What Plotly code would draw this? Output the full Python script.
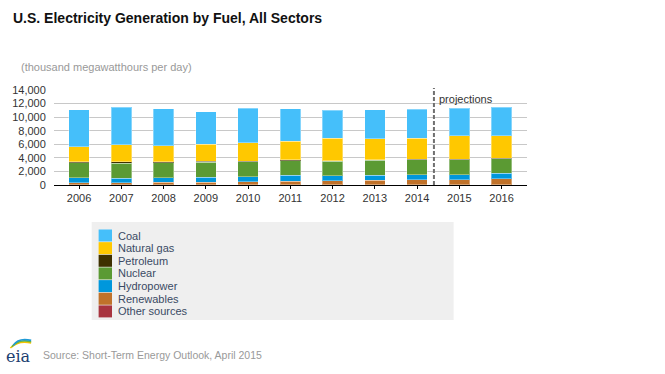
import plotly.graph_objects as go

# ---- data (thousand megawatthours per day) ----
years = [2006, 2007, 2008, 2009, 2010, 2011, 2012, 2013, 2014, 2015, 2016]
year_labels = [str(y) for y in years]
coal = [5455, 5523, 5426, 4811, 5060, 4748, 4137, 4332, 4334, 4070, 4220]
natural_gas = [2236, 2458, 2413, 2523, 2707, 2778, 3347, 3082, 3085, 3420, 3270]
petroleum = [175, 240, 126, 107, 101, 82, 63, 74, 82, 95, 90]
nuclear = [2156, 2208, 2202, 2189, 2211, 2164, 2101, 2162, 2184, 2200, 2170]
hydropower = [792, 679, 694, 748, 712, 874, 754, 737, 710, 730, 780]
renewables = [263, 288, 344, 395, 458, 532, 596, 693, 767, 745, 895]
other_sources = [38, 36, 30, 33, 33, 38, 38, 36, 36, 35, 35]
y_ticks = [0, 2000, 4000, 6000, 8000, 10000, 12000, 14000]
y_tick_labels = ["0", "2,000", "4,000", "6,000", "8,000", "10,000", "12,000", "14,000"]
last_history_year = 2014
first_projection_year = 2015

series_names = ["Coal", "Natural gas", "Petroleum", "Nuclear", "Hydropower", "Renewables", "Other sources"]
series_values = [coal, natural_gas, petroleum, nuclear, hydropower, renewables, other_sources]
series_colors = ["#45bffa", "#ffc800", "#3e3000", "#5b9a33", "#0097dc", "#c0722a", "#a8343f"]

# ---- layout geometry (pixels) ----
W, H = 665, 374
L, R, T, B = 50, 138, 90, 189
PW, PH = W - L - R, H - T - B


def px(x):
    return (x - L) / PW


def py(y):
    return (T + PH - y) / PH


fig = go.Figure()

# stack from bottom: reverse legend order
for name, vals, col in reversed(list(zip(series_names, series_values, series_colors))):
    fig.add_trace(go.Bar(
        x=years, y=vals, name=name,
        marker=dict(color=col, line=dict(color="rgba(255,255,255,0.35)", width=1)),
        showlegend=False,
        hovertemplate="%{x}<br>" + name + ": %{y:,}<extra></extra>",
    ))

shapes = []
annotations = []

# projection divider
proj_x = last_history_year + 0.4 * (first_projection_year - last_history_year)
shapes.append(dict(type="line", xref="x", yref="paper", x0=proj_x, x1=proj_x,
                   y0=0, y1=py(88), line=dict(color="#707070", width=2, dash="4px,2px")))
annotations.append(dict(text="projections", xref="paper", yref="paper", x=px(436), y=py(99),
                        xanchor="left", yanchor="middle", showarrow=False,
                        font=dict(family="Liberation Sans, Arial", size=11, color="#333333")))

# title and subtitle
annotations.append(dict(text="<b>U.S. Electricity Generation by Fuel, All Sectors</b>", xref="paper", yref="paper",
                        x=px(7), y=py(18), xanchor="left", yanchor="middle", showarrow=False,
                        font=dict(family="Liberation Sans, Arial", size=14, color="#111111")))
annotations.append(dict(text="(thousand megawatthours per day)", xref="paper", yref="paper",
                        x=px(15), y=py(67), xanchor="left", yanchor="middle", showarrow=False,
                        font=dict(family="Liberation Sans, Arial", size=11, color="#999999")))

# manual legend
shapes.append(dict(type="rect", xref="paper", yref="paper", x0=px(88), x1=px(453), y0=py(222), y1=py(320),
                   fillcolor="#efefef", line=dict(width=0), layer="below"))
row0, rowgap = 235.5, 12.65
for i, (name, col) in enumerate(zip(series_names, series_colors)):
    yc = row0 + i * rowgap
    shapes.append(dict(type="rect", xref="paper", yref="paper", x0=px(95), x1=px(108.5),
                       y0=py(yc + 6), y1=py(yc - 6), fillcolor=col, line=dict(width=0)))
    annotations.append(dict(text=name, xref="paper", yref="paper", x=px(113), y=py(yc),
                            xanchor="left", yanchor="middle", showarrow=False,
                            font=dict(family="Liberation Sans, Arial", size=11, color="#3a4a64")))

# footer: eia mark and source
annotations.append(dict(text="eia", xref="paper", yref="paper", x=px(14), y=py(356),
                        xanchor="center", yanchor="middle", showarrow=False,
                        font=dict(family="DejaVu Serif", size=16, color="#1b3e70")))
arc_cols = ["#f5c400", "#6db33f", "#1f9ad6"]
for k, c in enumerate(arc_cols):
    x0, x1 = 6 + k * 1.5, 27
    y0 = 348 - k * 1.3
    shapes.append(dict(type="path", xref="paper", yref="paper",
                       path=f"M {px(x0)},{py(y0)} Q {px(14)},{py(y0 - 8)} {px(x1)},{py(y0 - 5)}",
                       line=dict(color=c, width=1.6)))
annotations.append(dict(text="Source: Short-Term Energy Outlook, April 2015", xref="paper", yref="paper",
                        x=px(37), y=py(355), xanchor="left", yanchor="middle", showarrow=False,
                        font=dict(family="Liberation Sans, Arial", size=10.5, color="#999999")))

span_left = years[0] - (75.3 - L) / 42.6
span_right = years[-1] + (L + PW - 501.3) / 42.6

fig.update_layout(
    width=W, height=H, autosize=False,
    margin=dict(l=L, r=R, t=T, b=B, pad=0),
    paper_bgcolor="white", plot_bgcolor="white",
    barmode="stack", bargap=0.514,
    showlegend=False,
    font=dict(family="Liberation Sans, Arial", size=11, color="#333333"),
    xaxis=dict(range=[span_left, span_right], tickmode="array", tickvals=years, ticktext=year_labels,
               showgrid=False, zeroline=False, showline=True, linecolor="#000000", linewidth=1,
               ticks="outside", ticklen=3, tickcolor="#000000",
               tickfont=dict(family="Liberation Sans, Arial", size=11, color="#333333"), fixedrange=True),
    yaxis=dict(range=[0, 14000], tickmode="array", tickvals=y_ticks, ticktext=y_tick_labels,
               showgrid=True, gridcolor="#c8c8c8", gridwidth=1, zeroline=False, showline=False,
               ticks="outside", ticklen=5, tickcolor="rgba(0,0,0,0)",
               tickfont=dict(family="Liberation Sans, Arial", size=11, color="#333333"), fixedrange=True),
    shapes=shapes, annotations=annotations,
)

fig.write_html("out.html", post_script="document.body.style.margin='0';",
               config={"displayModeBar": False})
